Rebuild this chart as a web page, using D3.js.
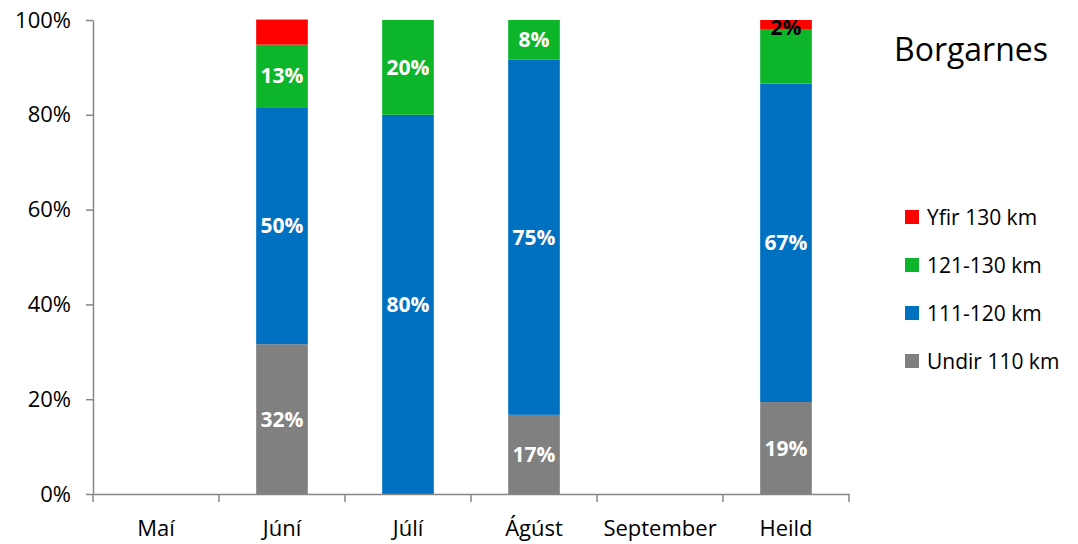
<!DOCTYPE html>
<html lang="is">
<head>
  <meta charset="UTF-8">
  <title>Borgarnes</title>
  <script src="https://d3js.org/d3.v7.min.js"></script>
  <style>
    body { margin: 0; background: #fff; }
    text { font-family: "Open Sans", "Noto Sans", sans-serif; }
  </style>
</head>
<body>
  <div id="chart"></div>

  <script>
    // gögn lesin af myndinni
    const months = ["Maí", "Júní", "Júlí", "Ágúst", "September", "Heild"];
    const seriesNames = ["Undir 110 km", "111-120 km", "121-130 km", "Yfir 130 km"];
    const undir110 = [0, 31.6, 0, 16.7, 0, 19.4];
    const km111_120 = [0, 50.0, 80.0, 75.0, 0, 67.2];
    const km121_130 = [0, 13.2, 20.0, 8.3, 0, 11.5];
    const yfir130 = [0, 5.3, 0, 0, 0, 1.9];
    // texti á hverjum bút (tómt = enginn merkimiði)
    const labelsUndir = ["", "32%", "", "17%", "", "19%"];
    const labels111 = ["", "50%", "80%", "75%", "", "67%"];
    const labels121 = ["", "13%", "20%", "8%", "", ""];
    const labelsYfir = ["", "", "", "", "", "2%"];
    const yTicks = [0, 20, 40, 60, 80, 100];
    const colors = ["#808080", "#0070C0", "#0DB52B", "#FF0000"];

    const seriesValues = [undir110, km111_120, km121_130, yfir130];
    const seriesLabels = [labelsUndir, labels111, labels121, labelsYfir];

    const width = 1078, height = 544;
    const m = { left: 93, right: 849, top: 20, bottom: 494 };

    const svg = d3.select("#chart").append("svg")
      .attr("width", width)
      .attr("height", height);

    const x = d3.scaleBand().domain(months).range([m.left, m.right]).padding(0);
    const y = d3.scaleLinear().domain([0, 100]).range([m.bottom, m.top]);
    const barW = x.bandwidth() * 0.41;

    const table = months.map((mo, i) => {
      const row = { month: mo };
      seriesNames.forEach((s, j) => row[s] = seriesValues[j][i]);
      return row;
    });
    const stacked = d3.stack().keys(seriesNames)(table);

    stacked.forEach((layer, j) => {
      const g = svg.append("g");
      g.selectAll("rect")
        .data(layer)
        .enter()
        .append("rect")
        .attr("x", d => x(d.data.month) + (x.bandwidth() - barW) / 2)
        .attr("width", barW)
        .attr("y", d => y(d[1]))
        .attr("height", d => y(d[0]) - y(d[1]))
        .attr("fill", colors[j]);

      g.selectAll("text")
        .data(layer)
        .enter()
        .append("text")
        .attr("x", d => x(d.data.month) + x.bandwidth() / 2)
        .attr("y", d => (y(d[0]) + y(d[1])) / 2)
        .attr("dy", j === 3 ? "0.5em" : "0.36em")
        .attr("text-anchor", "middle")
        .style("font-size", "21px")
        .style("font-weight", "bold")
        .attr("fill", j === 3 ? "#000" : "#fff")
        .text((d, i) => seriesLabels[j][i]);
    });

    // y ás
    const yAxis = svg.append("g")
      .attr("transform", `translate(${m.left},0)`)
      .call(d3.axisLeft(y).tickValues(yTicks).tickFormat(d => d + "%").tickSize(7).tickSizeOuter(0).tickPadding(15));
    yAxis.select(".domain").attr("stroke", "#868686").attr("stroke-width", 1.5);
    yAxis.selectAll(".tick line").attr("stroke", "#868686").attr("stroke-width", 1.5);
    yAxis.selectAll("text").style("font-size", "22px").attr("fill", "#000")
      .style("font-family", "'Open Sans', sans-serif");

    // x ás
    const xAxis = svg.append("g")
      .attr("transform", `translate(0,${m.bottom})`)
      .call(d3.axisBottom(x).tickSize(0).tickPadding(26));
    xAxis.select(".domain").attr("stroke", "#868686").attr("stroke-width", 1.5);
    xAxis.selectAll("text").style("font-size", "22px").attr("fill", "#000")
      .style("font-family", "'Open Sans', sans-serif");
    const bounds = months.map(mo => x(mo)).concat([m.right]);
    xAxis.selectAll(".sep")
      .data(bounds)
      .enter()
      .append("line")
      .attr("x1", d => d).attr("x2", d => d)
      .attr("y1", 0).attr("y2", 8)
      .attr("stroke", "#868686").attr("stroke-width", 1.5);

    // titill
    svg.append("text")
      .attr("x", 971)
      .attr("y", 61)
      .attr("text-anchor", "middle")
      .style("font-size", "32px")
      .text("Borgarnes");

    // skýringar
    const legendOrder = [3, 2, 1, 0];
    const legend = svg.append("g").attr("transform", "translate(905,210)");
    const item = legend.selectAll("g")
      .data(legendOrder)
      .enter()
      .append("g")
      .attr("transform", (d, i) => `translate(0,${i * 48})`);
    item.append("rect")
      .attr("width", 14).attr("height", 14)
      .attr("fill", d => colors[d]);
    item.append("text")
      .attr("x", 22).attr("y", 7).attr("dy", "0.36em")
      .style("font-size", "21px")
      .text(d => seriesNames[d]);
  </script>
</body>
</html>
